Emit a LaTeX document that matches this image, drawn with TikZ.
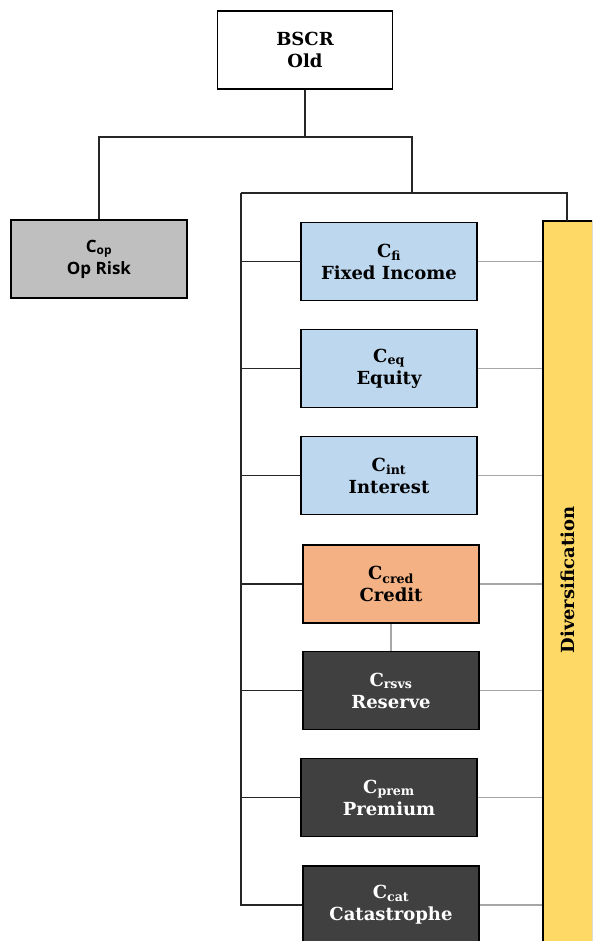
\documentclass[tikz,border=0pt]{standalone}
\usepackage{fontspec}
\setmainfont{DejaVu Serif}
\newfontfamily\opfont{Open Sans}
\definecolor{fiblue}{HTML}{BDD7EE}
\definecolor{credorange}{HTML}{F4B183}
\definecolor{insdark}{HTML}{404040}
\definecolor{opgray}{HTML}{BFBFBF}
\definecolor{divyellow}{HTML}{FFD966}
\definecolor{linkgray}{HTML}{A6A6A6}
\tikzset{
  riskbox/.style={draw=black,line width=1.5pt,minimum width=176pt,minimum height=78pt,
    inner sep=0pt,align=center,font=\bfseries\fontsize{18}{22}\selectfont},
  mktbox/.style={riskbox,fill=fiblue},
  credbox/.style={riskbox,fill=credorange},
  insbox/.style={riskbox,fill=insdark,text=white},
  link/.style={line width=1.6pt,black!85},
  softlink/.style={line width=1.6pt,linkgray}
}
\begin{document}
\begin{tikzpicture}[x=1pt,y=-1pt]
                \useasboundingbox (0,0) rectangle (592,941);
                \clip (0,0) rectangle (592,941);
                \node[riskbox,fill=white,minimum width=175pt] (bscr) at (305,50) {BSCR\\Old};
                \node[riskbox,fill=opgray,font=\opfont\bfseries\fontsize{17}{22}\selectfont] (op) at (99,259) {C\textsubscript{op}\\Op Risk};
                \node[riskbox,fill=divyellow,minimum width=50pt,minimum height=724pt] (div) at (568,583) {};
                \node[rotate=90,font=\bfseries\fontsize{18}{22}\selectfont] (divtext) at (568,580) {Diversification};
                \node[mktbox] (fi) at (389,261.5) {C\textsubscript{fi}\\Fixed Income};
                \node[mktbox] (eq) at (389,368.5) {C\textsubscript{eq}\\Equity};
                \node[mktbox] (int) at (389,475.5) {C\textsubscript{int}\\Interest};
                \node[credbox] (cred) at (391,584) {C\textsubscript{cred}\\Credit};
                \node[insbox] (rsvs) at (391,690.5) {C\textsubscript{rsvs}\\Reserve};
                \node[insbox] (prem) at (389,797.5) {C\textsubscript{prem}\\Premium};
                \node[insbox] (cat) at (391,905) {C\textsubscript{cat}\\Catastrophe};
                \coordinate (top) at (305,137);
                \coordinate (bus) at (241,193);
                \draw[link] (bscr.south) -- (top);
                \draw[link] (top) -| (op.north);
                \draw[link] (top) -| (412,193);
                \draw[link] (bus) -| (567,221);
                \draw[link] (bus) -- (bus |- cat.west) -- (cat.west);
                \foreach \n in {fi,eq,int,cred,rsvs,prem}
                  \draw[link] (bus |- \n.west) -- (\n.west);
                \foreach \n in {fi,eq,int,cred,rsvs,prem,cat}
                  \draw[softlink] (\n.east) -- (\n.east -| div.west);
                \draw[softlink] (cred.south) -- (rsvs.north);
            \end{tikzpicture}
\end{document}
